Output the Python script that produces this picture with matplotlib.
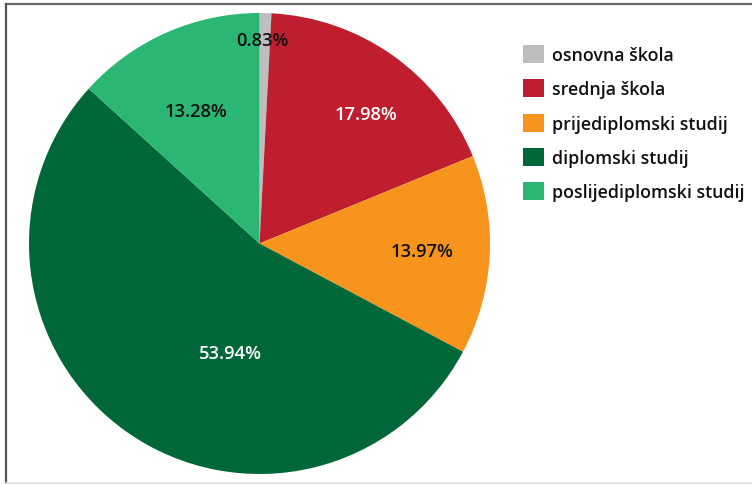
import matplotlib
matplotlib.use("Agg")
import matplotlib.pyplot as plt
from matplotlib.lines import Line2D
from matplotlib.patches import Patch

plt.rcParams['font.family'] = ['Open Sans', 'DejaVu Sans']

categories = ["osnovna škola", "srednja škola", "prijediplomski studij",
              "diplomski studij", "poslijediplomski studij"]
shares = [0.83, 17.98, 13.97, 53.94, 13.28]
colors = ["#BDBEC0", "#BE1E2D", "#F7941D", "#006838", "#2BB673"]
label_colors = ["#111111", "white", "#111111", "white", "#111111"]
# label anchors in pixel space (x from left, y from top)
label_pos = [(262, 41), (366, 115), (422, 252), (230, 354), (196, 112)]

W, H = 752, 485
fig = plt.figure(figsize=(W / 100, H / 100), dpi=100)
ax = fig.add_axes([0, 0, 1, 1])

cx, cy, r = 259.5, H - 244.5, 230.5
wedges, _ = ax.pie(shares, colors=colors, startangle=90, counterclock=False,
                   center=(cx, cy), radius=r, frame=True,
                   wedgeprops=dict(linewidth=0))
ax.set_xlim(0, W)
ax.set_ylim(0, H)
ax.set_aspect('equal')
ax.axis('off')

for v, c, (px, py) in zip(shares, label_colors, label_pos):
    ax.text(px, H - py, f"{v:.2f}%", ha='center', va='center',
            fontsize=13.2, color=c, fontweight='semibold')

handles = [Patch(facecolor=c, edgecolor='none') for c in colors]
leg = fig.legend(handles, categories, loc='upper left',
                 bbox_to_anchor=(523 / W, 1 - 46 / H),
                 frameon=False, fontsize=12.75, handlelength=1.2,
                 handleheight=1.2, handletextpad=0.45, labelspacing=0.86,
                 borderpad=0, borderaxespad=0)
for t in leg.get_texts():
    t.set_color('#111111')
    t.set_fontweight('semibold')

# outer frame
fig.add_artist(Line2D([5.5 / W, 1], [1 - 4.8 / H, 1 - 4.8 / H],
                      transform=fig.transFigure, color='#6a6a6a', lw=1.6))
fig.add_artist(Line2D([5.5 / W, 5.5 / W], [1 - 4.8 / H, 1 - 483.5 / H],
                      transform=fig.transFigure, color='#555555', lw=1.6))
fig.add_artist(Line2D([5.5 / W, 1], [1 - 483.8 / H, 1 - 483.8 / H],
                      transform=fig.transFigure, color='#dddddd', lw=1.2))

fig.savefig("out.png", dpi=100)
